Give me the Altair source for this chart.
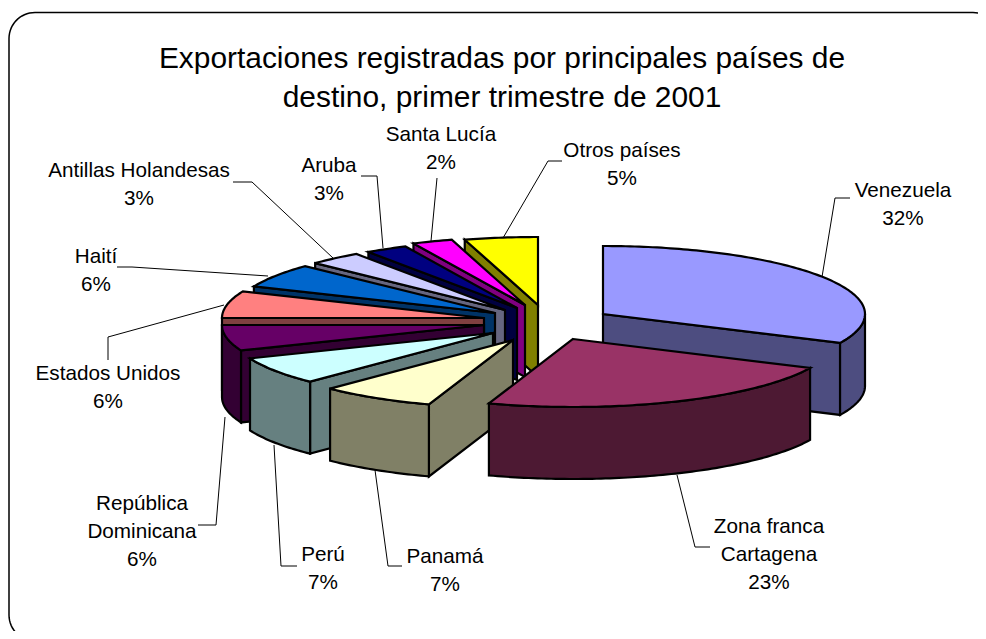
import math
import altair as alt

# chart values
countries = ["Venezuela", "Zona franca Cartagena", "Panamá", "Perú", "República Dominicana",
             "Estados Unidos", "Haití", "Antillas Holandesas", "Aruba", "Santa Lucía", "Otros países"]
shares = [32.0, 23.2, 7.1, 6.6, 6.1, 6.4, 5.7, 3.3, 2.6, 2.49, 4.51]
title_lines = ["Exportaciones registradas por principales países de",
               "destino, primer trimestre de 2001"]

# styling and layout (separate from the values)
top_colors = ["#9999FF", "#993366", "#FFFFCC", "#CCFFFF", "#660066", "#FF8080",
              "#0066CC", "#CCCCFF", "#000080", "#FF00FF", "#FFFF00"]
wall_colors = ["#4D4D80", "#4D1933", "#808066", "#668080", "#330033", "#804040",
               "#003366", "#666680", "#000040", "#800080", "#808000"]
apex_x = [603, 573, 513, 493, 484, 484, 495, 505, 517, 525, 538]
apex_y = [314, 339, 340, 333, 325, 318, 313, 310, 308, 305, 305]
paint_order = [0, 10, 9, 8, 7, 6, 5, 4, 3, 2, 1]
RX, RY, DEPTH = 262, 68, 72

label_lines = [["Venezuela"], ["Zona franca", "Cartagena"], ["Panamá"], ["Perú"],
               ["República", "Dominicana"], ["Estados Unidos"], ["Haití"],
               ["Antillas Holandesas"], ["Aruba"], ["Santa Lucía"], ["Otros países"]]
label_x = [903, 769, 445, 323, 142, 108, 96, 139, 329, 441, 622]
label_y = [191, 527, 557, 555, 504, 374, 257, 171, 166, 135, 151]
leader_paths = [
    [(850, 198), (835, 198), (822, 277)],
    [(677, 475), (695, 547), (710, 547)],
    [(375, 470), (388, 566), (402, 566)],
    [(274, 445), (281, 566), (297, 566)],
    [(225, 417), (216, 525), (198, 525)],
    [(224, 305), (108, 337), (108, 360)],
    [(268, 276), (132, 267), (117, 267)],
    [(333, 258), (252, 182), (233, 182)],
    [(383, 248), (377, 176), (361, 176)],
    [(431, 241), (437, 178)],
    [(503, 238), (548, 161), (562, 161)],
]


def rim(cx, cy, deg):
    t = math.radians(deg)
    return (cx + RX * math.sin(t), cy - RY * math.cos(t))


def arc(cx, cy, a, b, dy=0):
    n = max(2, int(abs(b - a)) + 1)
    out = []
    for k in range(n + 1):
        p = rim(cx, cy, a + (b - a) * k / n)
        out.append((p[0], p[1] + dy))
    return out


def poly(points, fill):
    pts = [list(p) for p in points]
    pts.append(pts[0])
    return {"type": "Feature", "properties": {"fill": fill},
            "geometry": {"type": "Polygon", "coordinates": [pts]}}


edges = []
running = 0.0
for s in shares:
    edges.append((running * 3.6, (running + s) * 3.6))
    running += s

faces = []
for i in paint_order:
    a, b = edges[i]
    cx, cy = apex_x[i], apex_y[i]
    wall, top = wall_colors[i], top_colors[i]
    if math.sin(math.radians(a)) < 0:
        p = rim(cx, cy, a)
        faces.append(poly([(cx, cy), p, (p[0], p[1] + DEPTH), (cx, cy + DEPTH)], wall))
    if math.sin(math.radians(b)) > 0:
        p = rim(cx, cy, b)
        faces.append(poly([(cx, cy), p, (p[0], p[1] + DEPTH), (cx, cy + DEPTH)], wall))
    lo, hi = max(a, 90), min(b, 270)
    if hi > lo:
        faces.append(poly(arc(cx, cy, lo, hi) + arc(cx, cy, hi, lo, DEPTH), wall))
    faces.append(poly([(cx, cy)] + arc(cx, cy, a, b), top))

leaders = [{"type": "Feature", "properties": {},
            "geometry": {"type": "LineString", "coordinates": [list(p) for p in path]}}
           for path in leader_paths]


def corner(cx, cy, start, r=26):
    return [[cx + r * math.cos(math.radians(start + d)), cy + r * math.sin(math.radians(start + d))]
            for d in range(0, 91, 6)]


frame_pts = corner(35, 38.5, 180) + corner(973, 38.5, 270) + corner(973, 615, 0) + corner(35, 615, 90)
frame_pts.append(frame_pts[0])
frame = [{"type": "Feature", "properties": {},
          "geometry": {"type": "LineString", "coordinates": frame_pts}}]

LINE = 28
texts = []
for i, name in enumerate(countries):
    rows = label_lines[i] + [f"{round(shares[i])}%"]
    for k, row in enumerate(rows):
        texts.append({"t": row, "lon": label_x[i], "lat": label_y[i] + k * LINE})
titles = [{"t": title_lines[0], "lon": 502, "lat": 59},
          {"t": title_lines[1], "lon": 502, "lat": 98}]

frame_layer = alt.Chart(alt.Data(values=frame)).mark_geoshape(filled=False, stroke="#000000", strokeWidth=1.5)
leader_layer = alt.Chart(alt.Data(values=leaders)).mark_geoshape(filled=False, stroke="#000000", strokeWidth=1)
face_layer = alt.Chart(alt.Data(values=faces)).mark_geoshape(stroke="#000000", strokeWidth=2.2).encode(
    fill=alt.Fill("properties.fill:N", scale=None))
label_layer = alt.Chart(alt.Data(values=texts)).mark_text(
    font="Liberation Sans", fontSize=20.7, color="#000000", align="center", baseline="middle"
).encode(longitude="lon:Q", latitude="lat:Q", text="t:N")
title_layer = alt.Chart(alt.Data(values=titles)).mark_text(
    font="Liberation Sans", fontSize=29.9, color="#000000", align="center", baseline="middle"
).encode(longitude="lon:Q", latitude="lat:Q", text="t:N")

chart = alt.layer(frame_layer, leader_layer, face_layer, label_layer, title_layer).project(
    type="identity", scale=1, translate=[-8, -8]
).properties(width=970, height=623, padding=0, autosize="none", background="#FFFFFF"
).configure_view(stroke=None)

chart.save("out.html", embed_options={"renderer": "svg", "actions": False})
